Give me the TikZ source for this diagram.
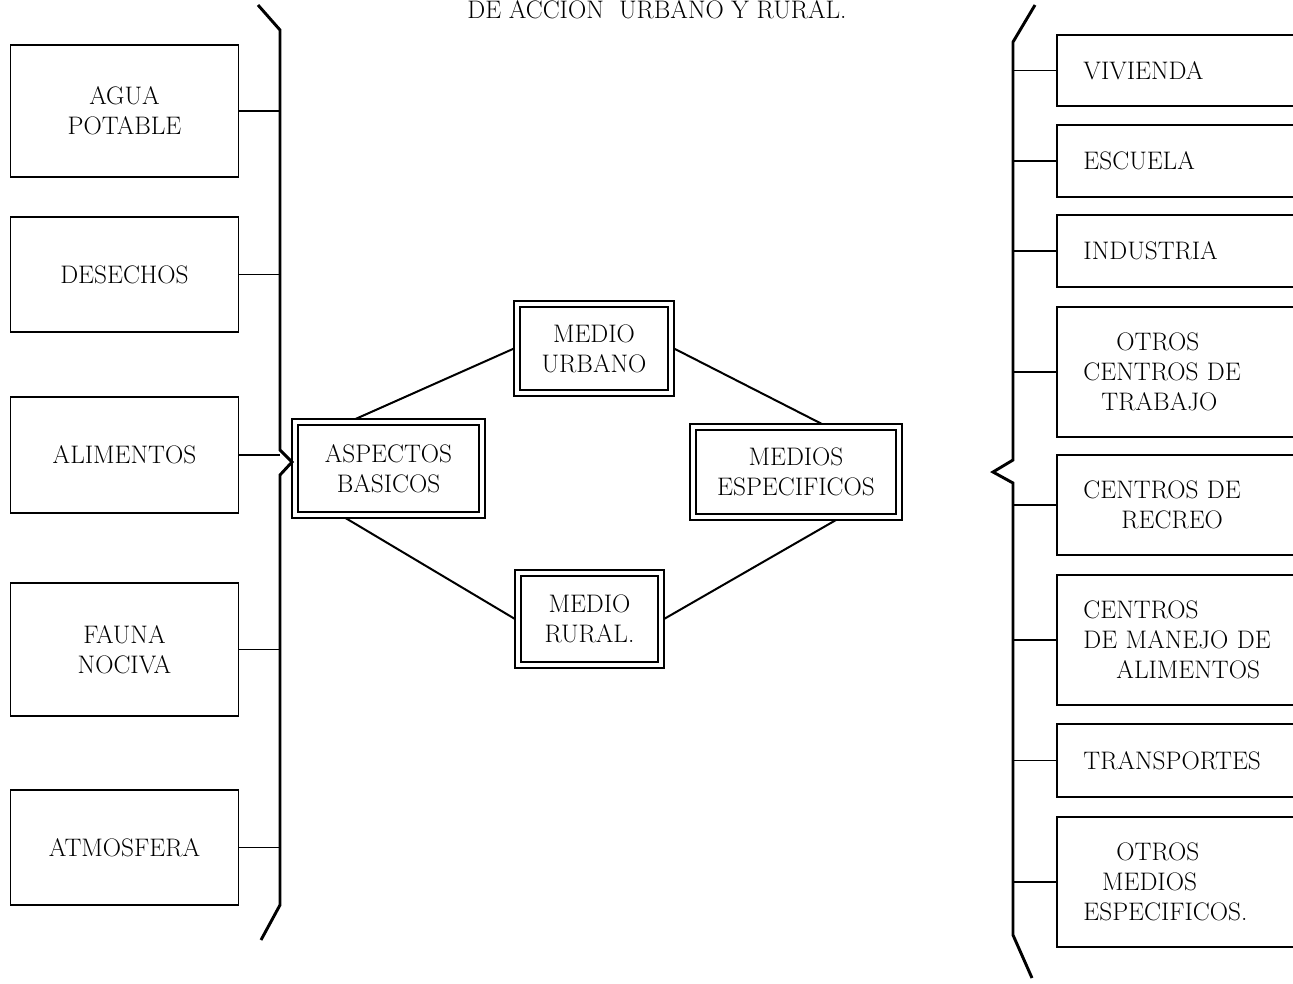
\documentclass[tikz,border=0pt]{standalone}
\usepackage{amsmath}
\usepackage{tikz}
\usetikzlibrary{calc}

\newcommand{\boxfont}{\fontsize{19}{22.5}\selectfont}

\tikzset{
	lbox/.style={draw, line width=1.2pt, minimum width=171pt, align=center, font=\boxfont},
	rbox/.style={draw, line width=1.2pt, anchor=west, inner xsep=20pt, text width=160pt, align=left, font=\boxfont},
	dbox/.style={draw, line width=1.7pt, outer sep=4.5pt, align=center, font=\boxfont},
	frame/.style={line width=0.8pt},
	brace/.style={line width=2.2pt, line join=miter},
	link/.style={line width=1.3pt},
	diag/.style={line width=1.5pt}
}

\begin{document}
\begin{tikzpicture}[x=0.75pt,y=0.75pt,yscale=-1,xscale=1]
	\useasboundingbox (0,0) rectangle (1293,983);
	\clip (0,0) rectangle (1293,983);

	% Title
	\node (title) [anchor=base, font=\boxfont] at (657,18) {DE ACCION~~URBANO Y RURAL.};

	%Shape: Brace left
	\draw [brace] (258,5) -- (280,30) -- (280,450) -- (292,462) -- (280,475) -- (280,905) -- (261,940);
	\coordinate (lb) at (280,0);
	%Shape: Brace right
	\draw [brace] (1035,5) -- (1013,42) -- (1013,460) -- (993,472) -- (1013,483) -- (1013,935) -- (1032,978);
	\coordinate (rb) at (1013,0);

	% Left boxes
	\node (agua) [lbox, minimum height=99pt] at (124.5,111) {AGUA\\POTABLE};
	\node (desechos) [lbox, minimum height=86.25pt] at (124.5,274.5) {DESECHOS};
	\node (alimentos) [lbox, minimum height=87pt] at (124.5,455) {ALIMENTOS};
	\node (fauna) [lbox, minimum height=99.75pt] at (124.5,649.5) {FAUNA\\NOCIVA};
	\node (atmosfera) [lbox, minimum height=86.25pt] at (124.5,847.5) {ATMOSFERA};

	\draw [link] (agua.east) -- (agua.east -| lb);
	\draw [link] (desechos.east) -- (desechos.east -| lb);
	\draw [link] (alimentos.east) -- (alimentos.east -| lb);
	\draw [link] (fauna.east) -- (fauna.east -| lb);
	\draw [link] (atmosfera.east) -- (atmosfera.east -| lb);

	% Right boxes
	\node (vivienda) [rbox, minimum height=53.25pt] at (1056,70.5) {VIVIENDA};
	\node (escuela) [rbox, minimum height=54pt] at (1056,161) {ESCUELA};
	\node (industria) [rbox, minimum height=54pt] at (1056,251) {INDUSTRIA};
	\node (trabajo) [rbox, minimum height=97.5pt] at (1056,372) {\hspace*{24.75pt}OTROS\\CENTROS DE\\\hspace*{13.5pt}TRABAJO};
	\node (recreo) [rbox, minimum height=75pt] at (1056,505) {CENTROS DE\\\hspace*{28.5pt}RECREO};
	\node (manejo) [rbox, minimum height=97.5pt] at (1056,640) {CENTROS\\DE MANEJO DE\\\hspace*{24.75pt}ALIMENTOS};
	\node (transportes) [rbox, minimum height=54.75pt] at (1056,760.5) {TRANSPORTES};
	\node (otros) [rbox, minimum height=97.5pt] at (1056,882) {\hspace*{24.75pt}OTROS\\\hspace*{14pt}MEDIOS\\ESPECIFICOS.};

	\draw [link] (rb |- vivienda.west) -- (vivienda.west);
	\draw [link] (rb |- escuela.west) -- (escuela.west);
	\draw [link] (rb |- industria.west) -- (industria.west);
	\draw [link] (rb |- trabajo.west) -- (trabajo.west);
	\draw [link] (rb |- recreo.west) -- (recreo.west);
	\draw [link] (rb |- manejo.west) -- (manejo.west);
	\draw [link] (rb |- transportes.west) -- (transportes.west);
	\draw [link] (rb |- otros.west) -- (otros.west);

	% Centre boxes (thick inner line, thin outer frame)
	\node (urbano) [dbox, minimum width=111pt, minimum height=62.25pt] at (594,348.5) {MEDIO\\URBANO};
	\node (aspectos) [dbox, minimum width=135.75pt, minimum height=65.25pt] at (388.5,468.5) {ASPECTOS\\BASICOS};
	\node (especificos) [dbox, minimum width=150pt, minimum height=63pt] at (796,472) {MEDIOS\\ESPECIFICOS};
	\node (rural) [dbox, minimum width=102.75pt, minimum height=64.5pt] at (589.5,619) {MEDIO\\RURAL.};

	\draw [frame] (urbano.north west) rectangle (urbano.south east);
	\draw [frame] (aspectos.north west) rectangle (aspectos.south east);
	\draw [frame] (especificos.north west) rectangle (especificos.south east);
	\draw [frame] (rural.north west) rectangle (rural.south east);

	\draw [diag] ($(aspectos.north)+(-33,0)$) -- (urbano.west);
	\draw [diag] (urbano.east) -- ($(especificos.north)+(26,0)$);
	\draw [diag] ($(aspectos.south)+(-43,0)$) -- (rural.west);
	\draw [diag] (rural.east) -- ($(especificos.south)+(40,0)$);

\end{tikzpicture}
\end{document}
